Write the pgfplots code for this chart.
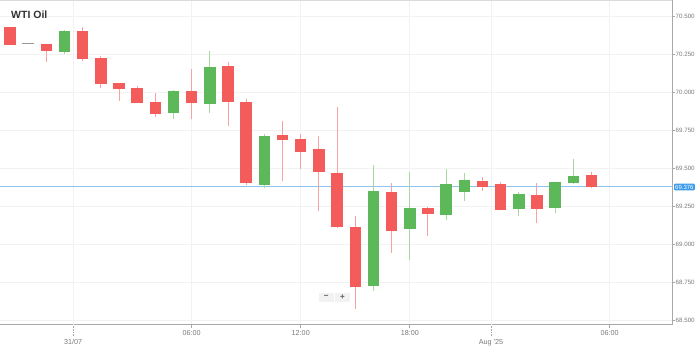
\documentclass[border=0pt]{standalone}
\usepackage{pgfplots}
\usepackage{pgfplotstable}
\pgfplotsset{compat=1.18}
\usepackage{fontspec}
\setmainfont{Liberation Sans}
\definecolor{bodyred}{HTML}{F45B5B}
\definecolor{bodygreen}{HTML}{5DB85A}
\definecolor{wickred}{HTML}{F7A3A3}
\definecolor{wickgreen}{HTML}{A6D8A0}
\definecolor{gridc}{HTML}{F2F2F2}
\definecolor{daygrid}{HTML}{E2E2E2}
\definecolor{axisc}{HTML}{A8A8A8}
\definecolor{labc}{HTML}{7A7A7A}
\definecolor{pricel}{HTML}{8EC3F0}
\definecolor{pricebox}{HTML}{3D9BE9}

% x = hourly candle index; bot/top = body, lo/hi = wick
\pgfplotstableread{
x bot top lo hi
0 70.309 70.428 70.309 70.430
2 70.272 70.314 70.199 70.316
4 70.217 70.399 70.204 70.430
5 70.051 70.226 70.024 70.237
6 70.018 70.057 69.943 70.060
7 69.926 70.028 69.926 70.039
8 69.855 69.932 69.838 69.995
10 69.926 70.009 69.820 70.149
12 69.936 70.171 69.776 70.199
13 69.399 69.932 69.388 69.954
15 69.684 69.717 69.416 69.809
16 69.603 69.691 69.491 69.724
17 69.472 69.625 69.217 69.711
18 69.110 69.469 69.105 69.899
19 68.719 69.110 68.572 69.184
21 69.086 69.340 68.939 69.403
23 69.195 69.237 69.055 69.240
26 69.377 69.414 69.349 69.443
27 69.224 69.393 69.222 69.410
29 69.232 69.324 69.136 69.399
32 69.376 69.452 69.366 69.476
}\reddata

\pgfplotstableread{
x bot top lo hi
3 70.265 70.403 70.250 70.405
9 69.860 70.007 69.820 70.013
11 69.921 70.166 69.860 70.270
14 69.388 69.711 69.370 69.722
20 68.726 69.349 68.693 69.520
22 69.097 69.235 68.895 69.476
24 69.191 69.393 69.156 69.491
25 69.344 69.421 69.283 69.469
28 69.228 69.329 69.184 69.344
30 69.235 69.408 69.202 69.410
31 69.399 69.447 69.393 69.557
}\greendata

\begin{document}
\begin{tikzpicture}
\useasboundingbox (0,0) rectangle (699pt,348pt);
\begin{axis}[
  at={(0pt,23.3pt)}, anchor=south west,
  scale only axis, width=672pt, height=324.7pt,
  xmin=-0.55, xmax=36.43, ymin=68.469, ymax=70.605,
  axis x line*=bottom, axis y line*=right,
  axis line style={color=axisc, line width=1pt},
  tick align=outside,
  major tick length=3pt,
  tick style={color=axisc, line width=0.6pt},
  xtick={10,16,22,33},
  xticklabels={06:00,12:00,18:00,06:00},
  extra x ticks={3.48,26.47},
  extra x tick labels={31/07,Aug '25},
  extra x tick style={major tick length=11pt, tick style={densely dotted, color=axisc},
     grid style={color=daygrid, line width=0.8pt},
     tick label style={yshift=-1.2pt}},
  ytick={68.5,68.75,...,70.5},
  y tick label style={/pgf/number format/fixed, /pgf/number format/fixed zerofill, /pgf/number format/precision=3, /pgf/number format/1000 sep={}},
  /pgf/number format/assume math mode=true,
  xticklabel style={font=\fontsize{7.2}{8}\selectfont, color=labc, inner sep=0pt, yshift=-2.5pt},
  yticklabel style={font=\fontsize{6.2}{7}\selectfont, color=labc, inner sep=0pt, anchor=west, xshift=0.5pt},
  grid=major,
  major grid style={color=gridc, line width=0.8pt},
  clip=false,
]
% top frame line
\addplot[color=gridc!80!gray, line width=0.8pt, forget plot] coordinates {(-0.55,70.605) (36.43,70.605)};
% current price line
\addplot[color=pricel, line width=0.9pt, forget plot] coordinates {(-0.55,69.376) (36.43,69.376)};
% wicks
\addplot[draw=none, mark=none, forget plot,
  error bars/.cd, y dir=plus, y explicit, error mark=none,
  error bar style={draw=wickred, solid, line width=1pt}]
  table[x=x, y=lo, y error plus expr=\thisrow{hi}-\thisrow{lo}] {\reddata};
\addplot[draw=none, mark=none, forget plot,
  error bars/.cd, y dir=plus, y explicit, error mark=none,
  error bar style={draw=wickgreen, solid, line width=1pt}]
  table[x=x, y=lo, y error plus expr=\thisrow{hi}-\thisrow{lo}] {\greendata};
% bodies
\addplot[draw=none, mark=none, forget plot,
  error bars/.cd, y dir=plus, y explicit, error mark=none,
  error bar style={draw=bodyred, solid, line width=11.5pt}]
  table[x=x, y=bot, y error plus expr=\thisrow{top}-\thisrow{bot}] {\reddata};
\addplot[draw=none, mark=none, forget plot,
  error bars/.cd, y dir=plus, y explicit, error mark=none,
  error bar style={draw=bodygreen, solid, line width=11.5pt}]
  table[x=x, y=bot, y error plus expr=\thisrow{top}-\thisrow{bot}] {\greendata};
% doji candle
\addplot[color=gray!80, line width=1pt, forget plot] coordinates {(0.67,70.316) (1.30,70.316)};
\end{axis}
% title
\node[anchor=base west, inner sep=0pt, text=black!80, font=\fontsize{10.5}{12}\selectfont\bfseries] at (11pt,329pt) {WTI Oil};
% price label
\node[fill=pricebox, text=white, rounded corners=1pt, inner xsep=1.2pt, inner ysep=0pt, minimum height=6.6pt, font=\fontsize{6}{6}\selectfont, anchor=west] at (673.8pt,161pt) {69.376};
% zoom buttons
\node[fill=black!5, draw=white, line width=0.6pt, minimum width=16pt, minimum height=10pt, inner sep=0pt, font=\fontsize{8}{8}\selectfont\bfseries, text=black!65] at (326.3pt,51pt) {−};
\node[fill=black!5, draw=white, line width=0.6pt, minimum width=16pt, minimum height=10pt, inner sep=0pt, font=\fontsize{8}{8}\selectfont\bfseries, text=black!65] at (342.5pt,51pt) {+};
\end{tikzpicture}
\end{document}
